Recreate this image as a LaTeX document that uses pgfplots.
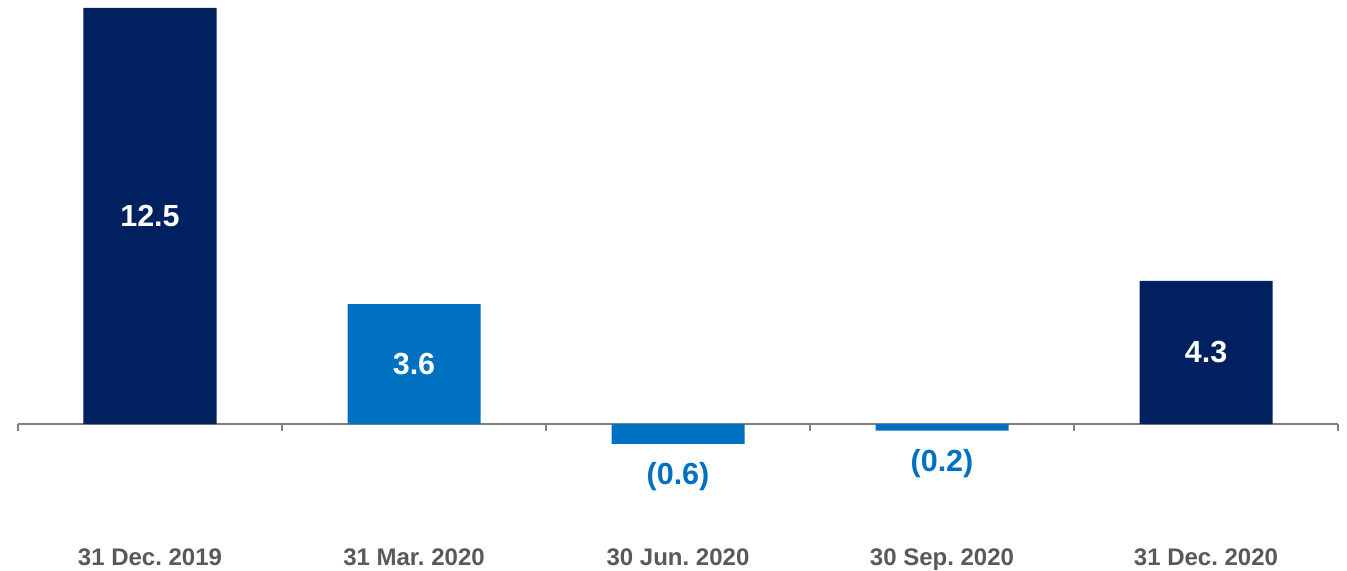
\documentclass[border=0pt]{standalone}
\usepackage{fontspec}
\setmainfont{Liberation Sans}
\usepackage{pgfplots}
\pgfplotsset{compat=1.18}
\usepackage{pgfplotstable}
\definecolor{navy}{HTML}{002060}
\definecolor{mblue}{HTML}{0070C0}
\definecolor{lblgray}{HTML}{595959}
\definecolor{axgray}{HTML}{7F7F7F}
\pgfplotstableread{
x v lab
0 12.5 12.5
4 4.3 4.3
}\navydata
\pgfplotstableread{
x v lab
1 3.6 3.6
2 -0.6 (0.6)
3 -0.2 (0.2)
}\bluedata
\pgfplotstableread{
x v lab
0 12.5 12.5
1 3.6 3.6
4 4.3 4.3
}\posdata
\pgfplotstableread{
x v lab
2 -0.6 (0.6)
3 -0.2 (0.2)
}\negdata
\begin{document}
\frenchspacing
\begin{tikzpicture}
\begin{axis}[
  name=ax,
  scale only axis,
  width=1320pt, height=570pt,
  xmin=-0.5, xmax=4.5,
  ymin=-4.387, ymax=12.74,
  axis y line=none,
  axis x line*=middle,
  x axis line style={axgray, line width=1.2pt},
  xtick={0,1,2,3,4},
  xticklabels={31 Dec. 2019, 31 Mar. 2020, 30 Jun. 2020, 30 Sep. 2020, 31 Dec. 2020},
  major tick length=0pt,
  minor xtick={-0.5,0.5,1.5,2.5,3.5,4.5},
  minor tick length=7pt,
  tick align=outside,
  minor tick style={axgray, line width=1.2pt},
  xticklabel style={anchor=base, yshift=-141pt, text=lblgray, font=\fontsize{24}{28}\selectfont\bfseries},
  clip=false,
]
\addplot[ybar, bar width=133pt, bar shift=0pt, fill=navy, draw=none] table[x=x, y=v] {\navydata};
\addplot[ybar, bar width=133pt, bar shift=0pt, fill=mblue, draw=none] table[x=x, y=v] {\bluedata};
\addplot[only marks, mark=none, nodes near coords, point meta=explicit symbolic,
  every node near coord/.style={anchor=center, text=white, font=\fontsize{30.5}{36}\selectfont\bfseries}]
  table[x=x, y expr=\thisrow{v}/2, meta=lab] {\posdata};
\addplot[only marks, mark=none, nodes near coords, point meta=explicit symbolic,
  every node near coord/.style={anchor=center, yshift=-33pt, text=mblue, font=\fontsize{30.5}{36}\selectfont\bfseries}]
  table[x=x, y=v, meta=lab] {\negdata};
\end{axis}
\pgfresetboundingbox
\useasboundingbox ([xshift=-18pt]ax.south west) rectangle ([xshift=9pt]ax.north east);
\end{tikzpicture}
\end{document}
